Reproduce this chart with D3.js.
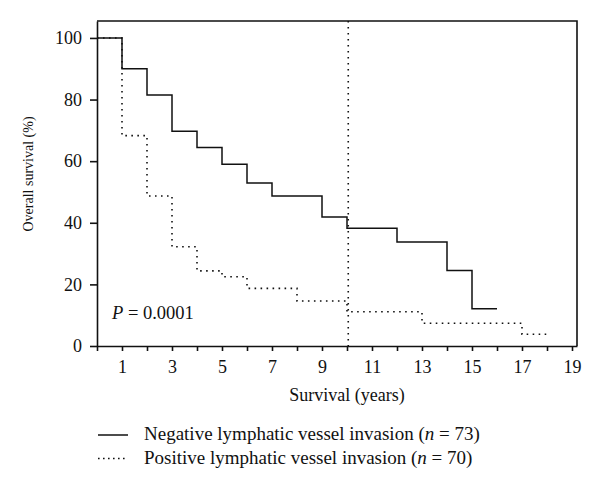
<!DOCTYPE html>
<html>
<head>
<meta charset="utf-8">
<script src="https://cdn.jsdelivr.net/npm/d3@7/dist/d3.min.js"></script>
<style>
    body { margin: 0; background: #fff; }
    svg text { font-family: 'Liberation Serif', 'DejaVu Serif', serif; fill: #111; }
</style>
</head>
<body>
<div id="chart"></div>
<script>
// Negative lymphatic vessel invasion (n = 73)
var negTimes = [0, 1, 2, 3, 4, 5, 6, 7, 9, 10, 12, 14, 15];
var negSurvival = [100, 90, 81.5, 69.7, 64.4, 59, 52.9, 48.7, 41.9, 38.2, 33.8, 24.5, 12.1];
var negEnd = 16;

// Positive lymphatic vessel invasion (n = 70)
var posTimes = [0, 1, 2, 3, 4, 5, 6, 8, 10, 13, 17];
var posSurvival = [100, 68.3, 48.7, 32.2, 24.4, 22.5, 18.7, 14.6, 11.1, 7.4, 3.8];
var posEnd = 18;

// Reference line (years)
var refYear = 10.05;

// Ticks
var xTicks = d3.range(0, 20);
var xTickLabels = [1, 3, 5, 7, 9, 11, 13, 15, 17, 19];
var yTicks = [0, 20, 40, 60, 80, 100];

var legendLabels = [
    ['Negative lymphatic vessel invasion (', 'n', ' = 73)'],
    ['Positive lymphatic vessel invasion (', 'n', ' = 70)']
];

var width = 600,
    height = 492;

var x = d3.scaleLinear().domain([0, 19.2]).range([97, 577]);
var y = d3.scaleLinear().domain([0, 105.5]).range([346, 21]);

var svg = d3
    .select('#chart')
    .append('svg')
    .attr('width', width)
    .attr('height', height);

// Curves
function stepData(times, vals, end) {
    var pts = times.map(function (t, i) {
        return [t, vals[i]];
    });
    pts.push([end, vals[vals.length - 1]]);
    return pts;
}
var line = d3
    .line()
    .x(function (d) { return x(d[0]); })
    .y(function (d) { return y(d[1]); })
    .curve(d3.curveStepAfter);

svg.append('path')
    .datum(stepData(posTimes, posSurvival, posEnd))
    .attr('d', line)
    .attr('fill', 'none')
    .attr('stroke', '#111')
    .attr('stroke-width', 1.6)
    .attr('stroke-dasharray', '1.6,4.4');

svg.append('path')
    .datum(stepData(negTimes, negSurvival, negEnd))
    .attr('d', line)
    .attr('fill', 'none')
    .attr('stroke', '#111')
    .attr('stroke-width', 1.5);

// Vertical dotted reference line
svg.append('line')
    .attr('x1', x(refYear))
    .attr('x2', x(refYear))
    .attr('y1', y.range()[1])
    .attr('y2', y.range()[0])
    .attr('stroke', '#111')
    .attr('stroke-width', 1.6)
    .attr('stroke-dasharray', '1.6,4.4');

// Top and right frame
svg.append('path')
    .attr('d', 'M' + x.range()[0] + ',' + y.range()[1] + 'H' + x.range()[1] + 'V' + y.range()[0])
    .attr('fill', 'none')
    .attr('stroke', '#111')
    .attr('stroke-width', 1.6);

// X Axis
var xAxis = svg
    .append('g')
    .attr('transform', 'translate(0,' + y.range()[0] + ')')
    .call(
        d3.axisBottom(x)
            .tickValues(xTicks)
            .tickSize(5)
            .tickPadding(9)
            .tickSizeOuter(0)
            .tickFormat(function (d) {
                return xTickLabels.indexOf(d) >= 0 ? d : '';
            })
    );

// Y Axis
var yAxis = svg
    .append('g')
    .attr('transform', 'translate(' + x.range()[0] + ',0)')
    .call(d3.axisLeft(y).tickValues(yTicks).tickSize(7).tickPadding(8).tickSizeOuter(0));

[xAxis, yAxis].forEach(function (g) {
    g.selectAll('path, line').attr('stroke', '#111').attr('stroke-width', 1.6);
    g.selectAll('text').style('font-size', '18px').attr('fill', '#111');
});

// Axis labels
svg.append('text')
    .attr('x', 347)
    .attr('y', 401)
    .attr('text-anchor', 'middle')
    .style('font-size', '18px')
    .text('Survival (years)');

svg.append('text')
    .attr('transform', 'translate(33,174) rotate(-90)')
    .attr('text-anchor', 'middle')
    .style('font-size', '14px')
    .text('Overall survival (%)');

// P value
var pText = svg.append('text')
    .attr('x', 112)
    .attr('y', 319)
    .style('font-size', '18.5px');
pText.append('tspan').style('font-style', 'italic').text('P');
pText.append('tspan').text(' = 0.0001');

// Legend
var legend = svg.append('g');
legendLabels.forEach(function (lab, i) {
    var ly = 440 + i * 23.5;
    legend.append('line')
        .attr('x1', 98)
        .attr('x2', 128)
        .attr('y1', ly - 5)
        .attr('y2', ly - 5)
        .attr('stroke', '#111')
        .attr('stroke-width', 1.5)
        .attr('stroke-dasharray', i === 1 ? '1.6,3.4' : null);
    var t = legend.append('text')
        .attr('x', 144)
        .attr('y', ly)
        .style('font-size', '19px');
    t.append('tspan').text(lab[0]);
    t.append('tspan').style('font-style', 'italic').text(lab[1]);
    t.append('tspan').text(lab[2]);
});
</script>
</body>
</html>
